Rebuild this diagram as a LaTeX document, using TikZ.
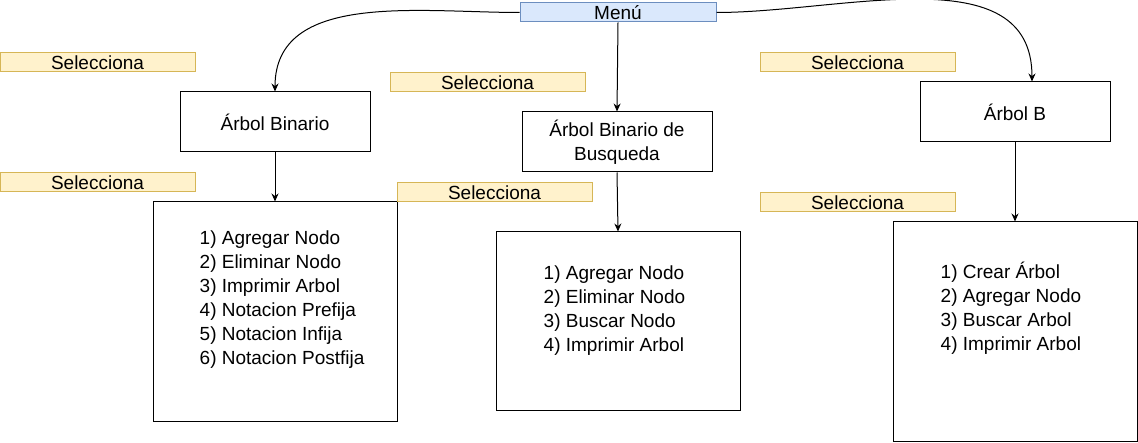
\documentclass[tikz,border=0pt]{standalone}
\usepackage{fontspec}
\setmainfont{Liberation Sans}
\usetikzlibrary{arrows.meta}
\usetikzlibrary{positioning}
\definecolor{menufill}{HTML}{DAE8FC}
\definecolor{menudraw}{HTML}{6C8EBF}
\definecolor{selfill}{HTML}{FFF2CC}
\definecolor{seldraw}{HTML}{D6B656}
\tikzset{%
  myedge/.style={->, line width=1pt, >={Stealth[length=8pt,width=7pt]}},
  mybox/.style={rectangle, draw=black, line width=1pt, inner sep=0pt, align=center},
  mysel/.style={rectangle, draw=seldraw, fill=selfill, line width=1pt, inner sep=0pt,
    minimum width=195pt, minimum height=19pt},
  mytext/.style={align=left, inner sep=0pt, anchor=west}
}

\begin{document}
\begin{tikzpicture}[x=1pt, y=-1pt, font=\fontsize{19}{24}\selectfont]
  \useasboundingbox (0,0) rectangle (1138,443);
  \node[mybox, draw=menudraw, fill=menufill, minimum width=196pt, minimum height=19pt] (menu) at (618,12.5) {Menú};

  \node[mybox, minimum width=190pt, minimum height=60pt] (ab) at (275,122) {Árbol Binario};
  \node[mybox, minimum width=190pt, minimum height=60pt] (abb) at (617,142) {Árbol Binario de\\Busqueda};
  \node[mybox, minimum width=190pt, minimum height=60pt] (arbolb) at (1015,112) {Árbol B};

  \node[mybox, minimum width=244pt, minimum height=220pt] (opab) at (275,312) {};
  \node[mybox, minimum width=244pt, minimum height=179pt] (opabb) at (618,321.5) {};
  \node[mybox, minimum width=244pt, minimum height=219pt] (oparbolb) at (1015,331.5) {};

  \node[mytext] (txab) at ([xshift=47pt, yshift=12pt]opab.west)
    {1) Agregar Nodo\\2) Eliminar Nodo\\3) Imprimir Arbol\\4) Notacion Prefija\\5) Notacion Infija\\6) Notacion Postfija};
  \node[mytext] (txabb) at ([xshift=48pt, yshift=11pt]opabb.west)
    {1) Agregar Nodo\\2) Eliminar Nodo\\3) Buscar Nodo\\4) Imprimir Arbol};
  \node[mytext] (txarbolb) at ([xshift=48pt, yshift=23pt]oparbolb.west)
    {1) Crear Árbol\\2) Agregar Nodo\\3) Buscar Arbol\\4) Imprimir Arbol};

  \node[mysel] (sel1) at (97.5,62.5) {Selecciona};
  \node[mysel] (sel2) at (487.5,82.5) {Selecciona};
  \node[mysel] (sel3) at (857.5,62.5) {Selecciona};
  \node[mysel] (sel4) at (97.5,182.5) {Selecciona};
  \node[mysel] (sel5) at (494.5,192.5) {Selecciona};
  \node[mysel] (sel6) at (857.5,202.5) {Selecciona};

  \draw [myedge] (menu.west) to[out=180, in=90] (ab.north);
  \draw [myedge] (menu.south) -- (abb.north);
  \draw [myedge] (menu.east) to[out=0, in=90] ([xshift=17pt]arbolb.north);
  \draw [myedge] (ab.south) -- (opab.north);
  \draw [myedge] (abb.south) -- (opabb.north);
  \draw [myedge] (arbolb.south) -- (oparbolb.north);
\end{tikzpicture}
\end{document}
